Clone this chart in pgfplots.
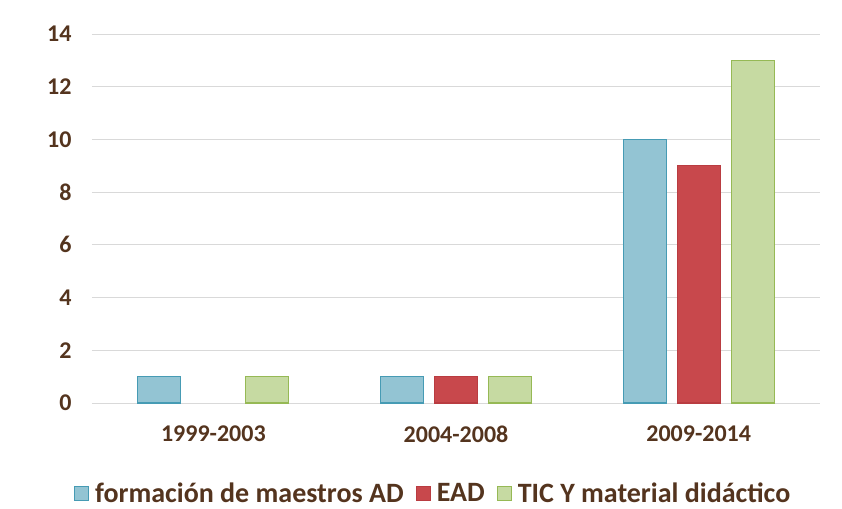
\documentclass[border=0pt]{standalone}
\usepackage{pgfplots}
\pgfplotsset{compat=1.18}
\usepackage{fontspec}
\setmainfont{Carlito}
\definecolor{txt}{RGB}{84,52,30}
\definecolor{gridc}{RGB}{217,217,217}
\definecolor{bluef}{RGB}{147,196,211}
\definecolor{blued}{RGB}{70,155,180}
\definecolor{redf}{RGB}{200,72,76}
\definecolor{redd}{RGB}{185,60,65}
\definecolor{greenf}{RGB}{198,218,162}
\definecolor{greend}{RGB}{150,185,85}
\begin{document}
\begin{tikzpicture}
\useasboundingbox (-92bp,-106bp) rectangle (750bp,403bp);
\begin{axis}[
    scale only axis,
    width=728bp, height=369bp,
    ybar=11bp,
    bar width=43bp,
    xmin=-0.5, xmax=2.5,
    ymin=0, ymax=14,
    ytick={0,2,...,14},
    xtick=data,
    xticklabels={1999-2003,2004-2008,2009-2014},
    ymajorgrids,
    grid style={gridc, line width=1pt},
    axis line style={draw=none},
    major tick style={draw=none},
    font=\fontsize{24bp}{28bp}\selectfont\bfseries,
    every tick label/.append style={text=txt},
    yticklabel style={xshift=-17bp},
    xticklabel style={yshift=-15bp},
    /pgf/number format/assume math mode=true,
    legend columns=-1,
    legend style={draw=none, fill=none, at={(0.468,-0.245)}, anchor=center,
        text=txt, font=\fontsize{28bp}{32bp}\selectfont\bfseries,
        nodes={inner sep=1bp},
        /tikz/every even column/.append style={column sep=11bp}},
    legend image code/.code={\draw[#1, line width=1pt] (0bp,-7bp) rectangle (14bp,7bp); \path (19bp,0bp);},
]
\addplot[fill=bluef, draw=blued, line width=1.2pt] coordinates {(0,1) (1,1) (2,10)};
\addplot[fill=redf, draw=redd, line width=1.2pt] coordinates {(1,1) (2,9)};
\addplot[fill=greenf, draw=greend, line width=1.2pt] coordinates {(0,1) (1,1) (2,13)};
\legend{formación de maestros AD, EAD, TIC Y material didáctico}
\end{axis}
\end{tikzpicture}
\end{document}
